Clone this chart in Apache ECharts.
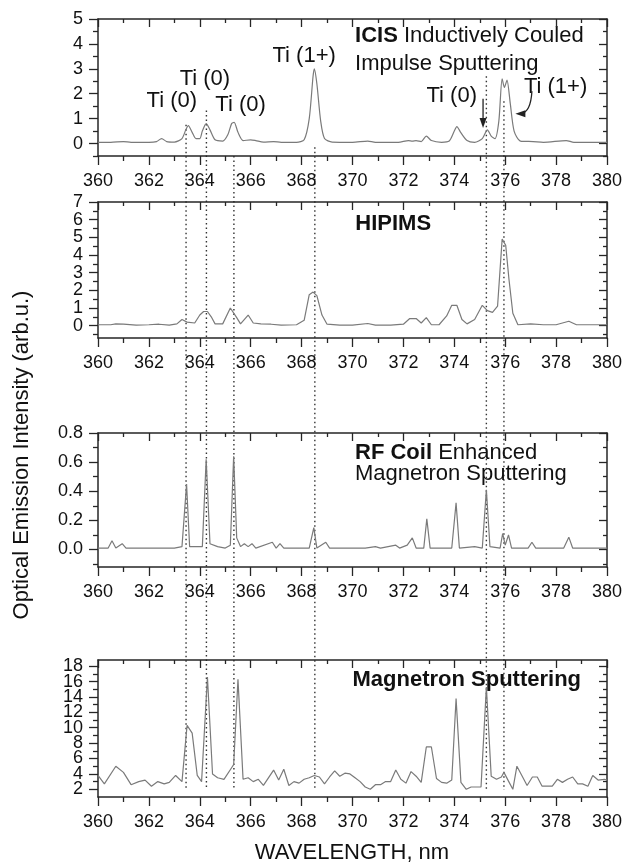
<!DOCTYPE html>
<html><head><meta charset="utf-8">
<script src="https://cdn.jsdelivr.net/npm/echarts/dist/echarts.min.js"></script>
<style>html,body{margin:0;padding:0;background:#fff}#c{width:635px;height:868px}</style>
</head><body><div id="c"></div>
<script>
// ---------- DATA ----------
const icisWl = [360.0,360.5,361.0,361.3,362.0,362.3,362.5,362.7,363.0,363.3,363.45,363.55,363.7,363.85,364.0,364.1,364.25,364.4,364.6,364.9,365.1,365.25,365.35,365.5,365.7,366.0,366.2,366.5,366.9,367.2,367.8,368.1,368.3,368.45,368.5,368.6,368.75,368.9,369.2,370.0,370.6,370.9,371.8,372.2,372.35,372.5,372.7,372.9,373.1,373.5,373.8,374.0,374.1,374.25,374.5,374.8,375.1,375.3,375.45,375.6,375.75,375.88,375.97,376.07,376.2,376.35,376.6,377.1,377.5,378.4,378.7,379.5,380.0];
const icisInt = [0.05,0.05,0.08,0.05,0.05,0.08,0.2,0.08,0.06,0.2,0.55,0.72,0.45,0.2,0.2,0.5,0.8,0.55,0.15,0.1,0.35,0.8,0.85,0.45,0.12,0.15,0.12,0.06,0.08,0.05,0.05,0.15,1.0,2.7,3.0,2.4,0.9,0.2,0.06,0.05,0.1,0.05,0.05,0.12,0.1,0.12,0.08,0.3,0.12,0.05,0.1,0.5,0.68,0.45,0.12,0.05,0.2,0.55,0.3,0.2,0.9,2.6,2.25,2.55,1.6,0.5,0.1,0.08,0.05,0.12,0.05,0.05,0.05];

const hipWl = [360.0,360.5,360.7,361.0,361.5,362.0,362.4,362.8,363.1,363.3,363.5,363.8,364.0,364.15,364.3,364.45,364.6,364.9,365.2,365.45,365.6,365.9,366.1,366.4,366.8,367.2,367.8,368.1,368.3,368.45,368.6,368.8,369.0,369.5,370.0,370.6,370.9,371.5,372.0,372.25,372.5,372.7,372.9,373.1,373.4,373.7,373.9,374.1,374.3,374.5,374.8,375.1,375.3,375.5,375.7,375.88,376.02,376.15,376.3,376.5,377.0,377.5,378.0,378.5,378.8,379.5,380.0];
const hipInt = [0.05,0.05,0.1,0.08,0.03,0.05,0.08,0.03,0.1,0.35,0.2,0.15,0.6,0.8,0.8,0.5,0.1,0.1,1.0,0.45,0.1,0.6,0.15,0.1,0.08,0.03,0.05,0.3,1.75,1.9,1.7,0.6,0.08,0.03,0.03,0.12,0.03,0.03,0.08,0.4,0.4,0.15,0.45,0.05,0.05,0.55,1.15,1.15,0.35,0.1,0.35,1.15,0.85,0.75,1.1,4.9,4.55,2.6,0.7,0.05,0.1,0.05,0.05,0.25,0.05,0.05,0.05];

const rfWl = [360.0,360.4,360.55,360.7,360.95,361.1,362.0,363.0,363.3,363.48,363.6,364.1,364.25,364.4,364.7,365.0,365.2,365.33,365.45,365.6,365.75,365.9,366.05,366.2,366.85,367.0,367.15,367.3,368.3,368.48,368.6,368.95,369.1,370.5,370.9,371.1,371.7,371.85,372.15,372.35,372.5,372.8,372.92,373.05,373.9,374.07,374.2,374.8,375.1,375.26,375.4,375.8,375.9,376.0,376.13,376.25,376.9,377.05,377.2,378.3,378.5,378.65,380.0];
const rfInt = [0.01,0.01,0.06,0.01,0.04,0.01,0.01,0.01,0.02,0.45,0.02,0.02,0.62,0.04,0.02,0.01,0.03,0.64,0.08,0.02,0.04,0.02,0.04,0.01,0.05,0.01,0.04,0.01,0.01,0.15,0.01,0.05,0.01,0.01,0.02,0.01,0.03,0.01,0.03,0.08,0.01,0.01,0.21,0.01,0.01,0.32,0.01,0.02,0.01,0.41,0.02,0.01,0.11,0.03,0.1,0.01,0.01,0.05,0.01,0.01,0.085,0.01,0.01];

const msWl = [360.0,360.25,360.7,361.0,361.3,361.6,361.85,362.1,362.35,362.6,362.8,363.05,363.3,363.5,363.7,363.9,364.07,364.3,364.5,364.7,364.95,365.25,365.33,365.5,365.7,365.9,366.1,366.3,366.5,366.9,367.1,367.3,367.5,367.7,367.9,368.1,368.3,368.5,368.7,368.9,369.1,369.3,369.5,369.7,369.9,370.1,370.3,370.5,370.7,370.9,371.1,371.3,371.5,371.7,371.9,372.1,372.3,372.5,372.7,372.9,373.1,373.3,373.5,373.7,373.9,374.07,374.26,374.47,374.66,374.86,375.05,375.26,375.45,375.66,375.85,375.95,376.14,376.3,376.46,376.7,376.86,377.07,377.26,377.45,377.65,377.85,378.05,378.25,378.45,378.65,378.85,379.04,379.25,379.44,379.65,379.9,380.0];
const msInt = [3.8,2.7,5.0,4.2,2.6,3.0,3.2,2.4,3.0,2.7,2.9,3.8,3.0,10.3,9.3,3.8,3.0,16.6,4.0,3.5,3.3,4.8,5.2,16.3,3.3,3.5,3.0,3.3,2.5,4.5,3.2,4.6,2.5,3.0,2.8,3.3,3.5,3.8,3.6,2.7,3.6,4.4,3.7,4.1,4.0,3.5,3.0,2.3,2.0,2.6,2.6,3.0,3.0,4.5,3.3,2.8,4.3,3.7,2.9,7.5,7.5,3.4,2.9,2.8,3.2,13.8,2.9,2.0,2.3,2.3,2.3,15.3,3.7,3.3,3.6,4.2,3.0,2.0,5.0,3.5,2.5,3.6,3.6,2.4,2.4,2.4,3.3,2.9,3.3,3.6,2.7,2.7,2.4,3.8,3.2,3.3,3.2];

// tick values
const icisTicks = [0,1,2,3,4,5];
const icisMinor = [-0.5,0.5,1.5,2.5,3.5,4.5];
const hipTicks = [0,1,2,3,4,5,6,7];
const hipMinor = [-0.5,0.5,1.5,2.5,3.5,4.5,5.5,6.5];
const rfTicks = [0,0.2,0.4,0.6,0.8];
const rfMinor = [-0.1,0.1,0.3,0.5,0.7];
const msTicks = [2,4,6,8,10,12,14,16,18];
const msMinor = [3,5,7,9,11,13,15,17];

// reference line wavelengths (dotted) with start value (top panel) and end value (bottom panel)
const refLines = [363.46, 364.26, 365.34, 368.52, 375.26, 375.95];
const refLineStart = [0.75, 1.33, -0.5, -0.15, 2.7, 1.7];
const refLineEnd = [1.9, 1.9, 1.9, 1.9, 1.9, 1.9];

// ---------- LAYOUT ----------
const FONT = '"Liberation Sans", Arial, Helvetica, sans-serif';
const LINE = '#262626';
const TXT = '#111';
const panels = [
  {wl: icisWl, val: icisInt, top: 19, height: 137, min: -0.5, max: 5, major: icisTicks, minor: icisMinor, dec: 0, smooth: 0.25},
  {wl: hipWl, val: hipInt, top: 202, height: 136, min: -0.7, max: 7, major: hipTicks, minor: hipMinor, dec: 0, smooth: false},
  {wl: rfWl, val: rfInt, top: 433, height: 134, min: -0.12, max: 0.8, major: rfTicks, minor: rfMinor, dec: 1, smooth: false},
  {wl: msWl, val: msInt, top: 660, height: 137, min: 1, max: 18.8, major: msTicks, minor: msMinor, dec: 0, smooth: false}
];

const chart = echarts.init(document.getElementById('c'), null, {renderer: 'canvas'});
const grids = [], xAxes = [], yAxes = [], series = [];
const ls = {color: LINE, width: 1.3};
panels.forEach((p, i) => {
  grids.push({left: 98, right: 28, top: p.top, height: p.height, show: false});
  const xBase = {type: 'value', gridIndex: i, min: 360, max: 380, interval: 2, splitLine: {show: false},
    axisLine: {show: true, onZero: false, lineStyle: {color: LINE, width: 1.5}}};
  xAxes.push(Object.assign({}, xBase, {position: 'bottom',
    axisTick: {show: true, length: 9, lineStyle: ls},
    minorTick: {show: true, splitNumber: 2, length: 5, lineStyle: ls},
    axisLabel: {show: true, fontSize: 18, color: TXT, fontFamily: FONT, margin: 16,
      showMinLabel: true, showMaxLabel: true, hideOverlap: false}}));
  xAxes.push(Object.assign({}, xBase, {position: 'top',
    axisTick: {show: true, inside: true, length: 8, lineStyle: ls},
    minorTick: {show: true, splitNumber: 2, length: 4, lineStyle: ls},
    axisLabel: {show: false}}));
  const yBase = {type: 'value', gridIndex: i, min: p.min, max: p.max, splitLine: {show: false},
    axisLine: {show: true, onZero: false, lineStyle: {color: LINE, width: 1.5}}};
  // labels split into alternate sets on two overlapping axes so none are auto-hidden
  const evenLab = p.major.filter((v, k) => k % 2 === 0);
  const oddLab = p.major.filter((v, k) => k % 2 === 1);
  const lab = vals => ({show: true, customValues: vals, fontSize: 18, color: TXT, fontFamily: FONT, margin: 15,
      showMinLabel: true, showMaxLabel: true, hideOverlap: false,
      formatter: v => Number(v).toFixed(p.dec)});
  yAxes.push(Object.assign({}, yBase, {position: 'left',
    axisTick: {show: true, length: 9, customValues: p.major, lineStyle: ls},
    axisLabel: lab(evenLab)}));
  yAxes.push(Object.assign({}, yBase, {position: 'left', axisLine: {show: false},
    axisTick: {show: true, length: 5, customValues: p.minor, lineStyle: ls},
    axisLabel: lab(oddLab)}));
  yAxes.push(Object.assign({}, yBase, {position: 'right',
    axisTick: {show: true, inside: true, length: 8, customValues: p.major, lineStyle: ls}, axisLabel: {show: false}}));
  yAxes.push(Object.assign({}, yBase, {position: 'right', axisLine: {show: false},
    axisTick: {show: true, inside: true, length: 4, customValues: p.minor, lineStyle: ls}, axisLabel: {show: false}}));
  series.push({type: 'line', xAxisIndex: 2 * i, yAxisIndex: 4 * i,
    data: p.wl.map((w, k) => [w, p.val[k]]), showSymbol: false, symbol: 'none',
    smooth: p.smooth, lineStyle: {color: '#7a7a7a', width: 1.2}, silent: true});
});

chart.setOption({animation: false, grid: grids, xAxis: xAxes, yAxis: yAxes, series: series});

// ---------- ANNOTATIONS ----------
function px(i, x, y) {
  return [chart.convertToPixel({xAxisIndex: 2 * i}, x), chart.convertToPixel({yAxisIndex: 4 * i}, y)];
}
const bold = {fontWeight: 'bold', fontSize: 22, fontFamily: FONT, fill: TXT};
const notes = [
  [0, 'Ti (0)', 362.9, 1.73, 'center'],
  [0, 'Ti (0)', 364.2, 2.6, 'center'],
  [0, 'Ti (0)', 365.6, 1.57, 'center'],
  [0, 'Ti (1+)', 368.1, 3.53, 'center'],
  [0, '{b|ICIS} Inductively Couled', 370.1, 4.33, 'left'],
  [0, 'Impulse Sputtering', 370.1, 3.2, 'left'],
  [0, 'Ti (0)', 373.9, 1.93, 'center'],
  [0, 'Ti (1+)', 377.98, 2.27, 'center'],
  [1, '{b|HIPIMS}', 371.6, 5.78, 'center'],
  [2, '{b|RF Coil} Enhanced', 370.1, 0.665, 'left'],
  [2, 'Magnetron Sputtering', 370.1, 0.52, 'left'],
  [3, '{b|Magnetron Sputtering}', 370.0, 16.2, 'left']
];
const g = [];
refLines.forEach((w, k) => {
  const x = chart.convertToPixel({xAxisIndex: 0}, w);
  const y1 = chart.convertToPixel({yAxisIndex: 0}, refLineStart[k]);
  const y2 = chart.convertToPixel({yAxisIndex: 12}, refLineEnd[k]);
  g.push({type: 'line', silent: true, shape: {x1: x, y1: y1, x2: x, y2: y2},
    style: {stroke: '#333', lineWidth: 1.4, lineDash: [1.5, 3]}});
});
notes.forEach(n => {
  const [x, y] = px(n[0], n[2], n[3]);
  g.push({type: 'text', silent: true, x: x, y: y, style: {text: n[1], fontSize: 22, fontFamily: FONT, fill: TXT,
    align: n[4], verticalAlign: 'middle', rich: {b: bold}}});
});
// straight arrow to Ti(0) at 375.2
{
  const a = px(0, 375.13, 1.8), b = px(0, 375.13, 0.62);
  g.push({type: 'line', silent: true, shape: {x1: a[0], y1: a[1], x2: b[0], y2: b[1] - 9}, style: {stroke: '#222', lineWidth: 1.3}});
  g.push({type: 'polygon', silent: true, shape: {points: [[b[0] - 3.5, b[1] - 10], [b[0] + 3.5, b[1] - 10], [b[0], b[1]]]}, style: {fill: '#222'}});
}
// curved arrow to Ti(1+) doublet
{
  const s = px(0, 377.05, 2.1), c = px(0, 377.0, 1.25), e = px(0, 376.62, 1.2), t = px(0, 376.4, 1.2);
  g.push({type: 'bezierCurve', silent: true, shape: {x1: s[0], y1: s[1], x2: e[0], y2: e[1], cpx1: c[0], cpy1: c[1]},
    style: {stroke: '#222', lineWidth: 1.3, fill: null}});
  g.push({type: 'polygon', silent: true, shape: {points: [[t[0], t[1]], [t[0] + 10, t[1] - 3.5], [t[0] + 10, t[1] + 3.5]]}, style: {fill: '#222'}});
}
// axis titles
g.push({type: 'text', silent: true, x: 352, y: 853, style: {text: 'WAVELENGTH, nm', fontSize: 22, fontFamily: FONT, fill: TXT, align: 'center', verticalAlign: 'middle'}});
g.push({type: 'text', silent: true, x: 22, y: 455, rotation: Math.PI / 2, style: {text: 'Optical Emission Intensity (arb.u.)', fontSize: 22, fontFamily: FONT, fill: TXT, align: 'center', verticalAlign: 'middle'}});
chart.setOption({graphic: g});
</script>
</body></html>
